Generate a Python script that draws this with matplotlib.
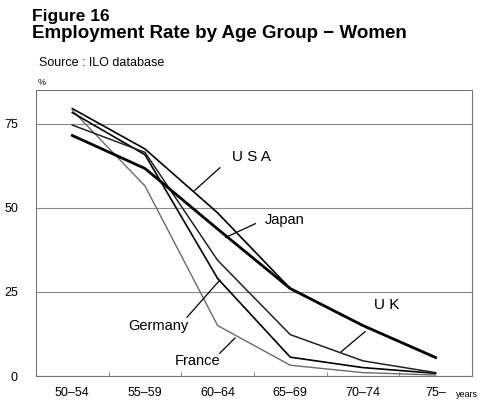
import matplotlib
matplotlib.use("Agg")
import matplotlib.pyplot as plt

# age groups on the x axis
age_groups = ["50–54", "55–59", "60–64", "65–69", "70–74", "75–"]

# employment rate (%)
usa = [79.5, 67.5, 48.5, 26.0, 15.0, 5.5]
japan = [71.5, 61.7, 43.7, 26.0, 15.0, 5.5]
germany = [78.3, 65.8, 29.0, 5.6, 2.5, 0.8]
uk = [74.6, 66.5, 34.4, 12.3, 4.5, 1.0]
france = [79.0, 56.5, 15.0, 3.2, 1.0, 0.3]

plt.rcParams["font.family"] = ["Liberation Sans", "DejaVu Sans"]

fig = plt.figure(figsize=(4.85, 4.04), dpi=100)
ax = fig.add_axes([0.0742, 0.0693, 0.8988, 0.7077])

x = list(range(len(age_groups)))
ax.plot(x, france, color="#6a6a6a", lw=1.0)
ax.plot(x, germany, color="black", lw=1.2)
ax.plot(x, uk, color="#222222", lw=1.1)
ax.plot(x, usa, color="black", lw=1.2)
ax.plot(x, japan, color="black", lw=2.0)

ax.set_xlim(-0.5, 5.5)
ax.set_ylim(0, 85)
ax.set_yticks([0, 25, 50, 75])
ax.set_yticklabels(["0", "25", "50", "75"], fontsize=9)
ax.set_xticks(x)
ax.set_xticklabels(age_groups, fontsize=9)
ax.set_xticks([i + 0.5 for i in range(5)], minor=True)
ax.tick_params(axis="x", which="major", length=0, pad=8)
ax.tick_params(axis="x", which="minor", length=3, direction="in", color="#777777")
ax.tick_params(axis="y", length=0, pad=13)
ax.grid(axis="y", color="#8a8a8a", lw=0.8)
for s in ax.spines.values():
    s.set_color("#777777")
    s.set_linewidth(0.8)

# series labels with pointer lines
ax.text(2.47, 65.0, "U S A", fontsize=11, ha="center", va="center")
ax.plot([2.03, 1.67], [61.9, 54.9], color="black", lw=0.9)
ax.text(2.92, 46.5, "Japan", fontsize=10.5, ha="center", va="center")
ax.plot([2.52, 2.11], [45.3, 41.2], color="black", lw=0.9)
ax.text(1.18, 14.8, "Germany", fontsize=10.5, ha="center", va="center")
ax.plot([1.58, 2.03], [17.5, 28.5], color="black", lw=0.9)
ax.text(1.73, 4.5, "France", fontsize=10.5, ha="center", va="center")
ax.plot([2.03, 2.24], [6.8, 11.3], color="black", lw=0.9)
ax.text(4.33, 21.0, "U K", fontsize=11, ha="center", va="center")
ax.plot([4.03, 3.70], [13.2, 7.2], color="black", lw=0.9)

fig.text(0.066, 0.978, "Figure 16", fontsize=12.5, fontweight="bold", va="top")
fig.text(0.066, 0.937, "Employment Rate by Age Group − Women", fontsize=13.5,
         fontweight="bold", va="top")
fig.text(0.080, 0.860, "Source : ILO database", fontsize=9, va="top")
fig.text(0.078, 0.808, "%", fontsize=6.5, va="top")
fig.text(0.940, 0.012, "years", fontsize=6.5, va="bottom")

fig.savefig("out.png", dpi=100)
